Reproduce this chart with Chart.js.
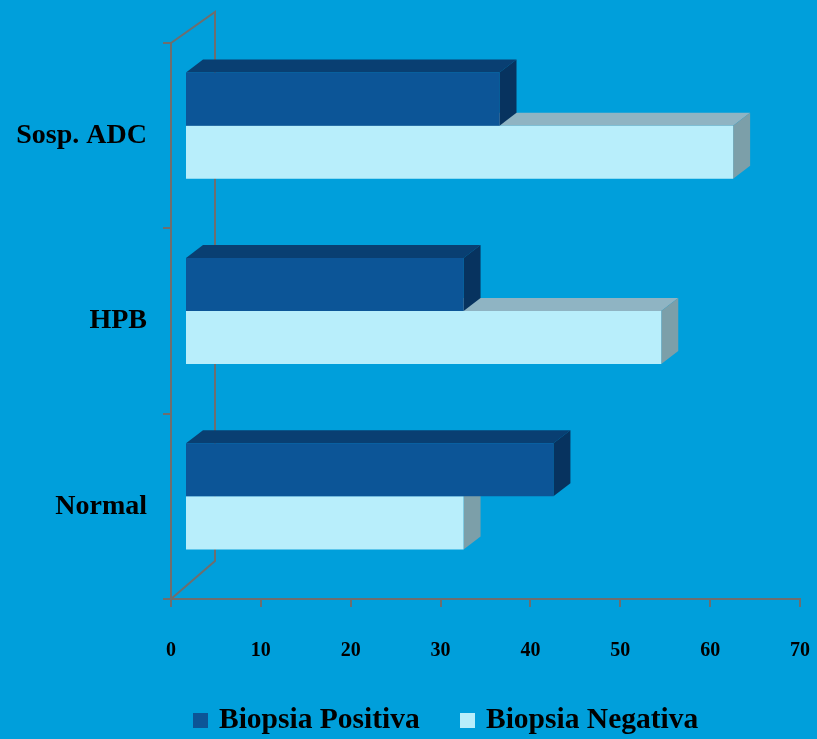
<!DOCTYPE html>
<html>
<head>
<meta charset="utf-8">
<script src="https://cdn.jsdelivr.net/npm/chart.js@4"></script>
<style>
  html, body { margin: 0; padding: 0; background: #009fdb; }
  #wrap { width: 817px; height: 739px; }
</style>
</head>
<body>
<div id="wrap"><canvas id="biopsiaChart" width="817" height="739"></canvas></div>
<script>
const categorias = ['Sosp. ADC', 'HPB', 'Normal'];
const positiva = [35, 31, 41];
const negativa = [61, 53, 31];
const ticksX = [0, 10, 20, 30, 40, 50, 60, 70];

const AXIS = '#6e6e6e';
const FONT = 'Liberation Serif';

// front faces sit a bit inside the 3D box; depth is the extrusion of each bar
const FRONT_X = 14, FRONT_Y = -10;
const DEPTH_X = 17, DEPTH_Y = -13;

// legend entries, drawn under the axis
const LEYENDA_X = [193, 460];
const LEYENDA_Y = 720;

const wall3d = {
  id: 'wall3d',
  beforeDatasetsDraw(chart) {
    const { ctx, chartArea: a } = chart;
    ctx.save();
    ctx.strokeStyle = AXIS;
    ctx.lineWidth = 2;
    ctx.beginPath();
    ctx.moveTo(a.left, a.top);
    ctx.lineTo(a.left + 44, a.top - 31);
    ctx.lineTo(a.left + 44, a.bottom - 38);
    ctx.lineTo(a.left, a.bottom);
    ctx.stroke();
    ctx.restore();
  }
};

const bar3d = {
  id: 'bar3d',
  beforeDatasetDraw(chart, args) {
    const ctx = chart.ctx;
    const ds = chart.data.datasets[args.index];
    ctx.save();
    ctx.translate(FRONT_X, FRONT_Y);
    args.meta.data.forEach(bar => {
      const { x, y, base, height } = bar.getProps(['x', 'y', 'base', 'height'], true);
      const top = y - height / 2, bot = y + height / 2;
      ctx.fillStyle = ds.topColor;
      ctx.beginPath();
      ctx.moveTo(base, top);
      ctx.lineTo(base + DEPTH_X, top + DEPTH_Y);
      ctx.lineTo(x + DEPTH_X, top + DEPTH_Y);
      ctx.lineTo(x, top);
      ctx.closePath();
      ctx.fill();
      ctx.fillStyle = ds.sideColor;
      ctx.beginPath();
      ctx.moveTo(x, top);
      ctx.lineTo(x + DEPTH_X, top + DEPTH_Y);
      ctx.lineTo(x + DEPTH_X, bot + DEPTH_Y);
      ctx.lineTo(x, bot);
      ctx.closePath();
      ctx.fill();
    });
  },
  afterDatasetDraw(chart) {
    chart.ctx.restore();
  }
};

const leyenda = {
  id: 'leyenda',
  afterDraw(chart) {
    const ctx = chart.ctx;
    ctx.save();
    ctx.font = 'bold 29.5px "' + FONT + '"';
    ctx.textBaseline = 'middle';
    chart.data.datasets.forEach((ds, i) => {
      const x = LEYENDA_X[i];
      ctx.fillStyle = ds.backgroundColor;
      ctx.fillRect(x, LEYENDA_Y - 7, 15, 15);
      ctx.fillStyle = '#000';
      ctx.fillText(ds.label, x + 26, LEYENDA_Y);
    });
    ctx.restore();
  }
};

const ctx = document.getElementById('biopsiaChart').getContext('2d');
new Chart(ctx, {
  type: 'bar',
  data: {
    labels: categorias,
    datasets: [{
      label: 'Biopsia Positiva',
      data: positiva,
      backgroundColor: '#0c5597',
      topColor: '#093f72',
      sideColor: '#07335f',
      borderWidth: 0,
      clip: false
    }, {
      label: 'Biopsia Negativa',
      data: negativa,
      backgroundColor: '#b8eefb',
      topColor: '#8fb4c3',
      sideColor: '#7c9fa9',
      borderWidth: 0,
      clip: false
    }]
  },
  options: {
    indexAxis: 'y',
    responsive: false,
    animation: false,
    events: [],
    datasets: { bar: { categoryPercentage: 0.573, barPercentage: 1.0 } },
    layout: { padding: { left: 0, right: 17, top: 43, bottom: 0 } },
    scales: {
      x: {
        min: 0,
        max: 70,
        afterBuildTicks: s => { s.ticks = ticksX.map(v => ({ value: v })); },
        afterFit: s => { s.height = 140; s.paddingLeft = 0; s.paddingRight = 0; },
        grid: { drawOnChartArea: false, tickLength: 8, color: AXIS, lineWidth: 2 },
        border: { display: true, color: AXIS, width: 2 },
        ticks: { padding: 32, color: '#000', font: { family: FONT, size: 20, weight: 'bold' } }
      },
      y: {
        afterFit: s => { s.width = 171; },
        grid: { drawOnChartArea: false, offset: true, tickLength: 8, color: AXIS, lineWidth: 2 },
        border: { display: true, color: AXIS, width: 2 },
        ticks: { padding: 16, color: '#000', font: { family: FONT, size: 28, weight: 'bold' } }
      }
    },
    plugins: {
      tooltip: { enabled: false },
      legend: { display: false }
    }
  },
  plugins: [wall3d, bar3d, leyenda]
});
</script>
</body>
</html>
